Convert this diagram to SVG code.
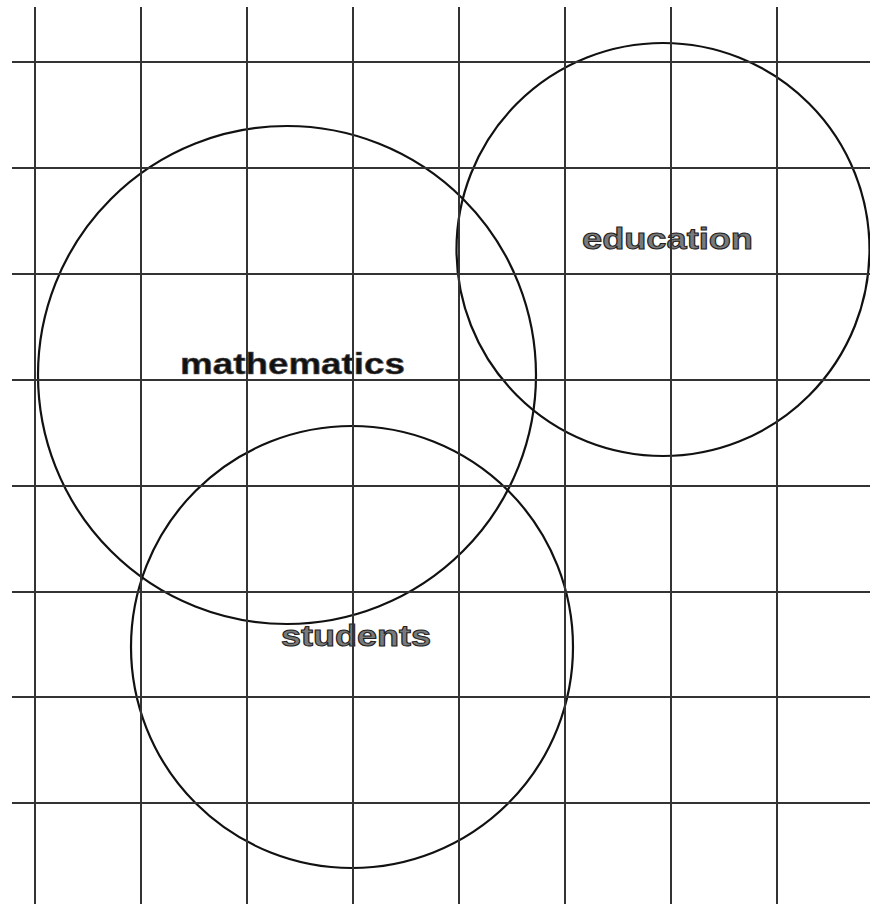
<svg xmlns="http://www.w3.org/2000/svg" width="870" height="904" viewBox="0 0 870 904">
<style>
.c{fill:none;stroke:#111;stroke-width:2.2}
.g line{stroke:#333;stroke-width:2}
.t{font-family:"Liberation Sans",Arial,sans-serif;font-weight:bold;font-size:29px}
.dark{fill:#111;stroke:#555;stroke-width:0.6}
.grey{fill:#7a7a7a;stroke:#222;stroke-width:1}
</style>
<rect width="870" height="904" fill="#fff"/>
<g id="mathematics">
<circle class="c" cx="287" cy="375" r="249"/>
<text class="t dark" x="180" y="374" textLength="225" lengthAdjust="spacingAndGlyphs">mathematics</text>
</g>
<g id="education">
<circle class="c" cx="663" cy="249.5" r="206.5"/>
<text class="t grey" x="582" y="249" textLength="171" lengthAdjust="spacingAndGlyphs">education</text>
</g>
<g id="students">
<circle class="c" cx="352" cy="647" r="221"/>
<text class="t grey" x="281" y="646" textLength="150" lengthAdjust="spacingAndGlyphs">students</text>
</g>
<g id="grid" class="g">
<line x1="35" y1="7" x2="35" y2="904"/>
<line x1="141" y1="7" x2="141" y2="904"/>
<line x1="247" y1="7" x2="247" y2="904"/>
<line x1="353" y1="7" x2="353" y2="904"/>
<line x1="459" y1="7" x2="459" y2="904"/>
<line x1="565" y1="7" x2="565" y2="904"/>
<line x1="671" y1="7" x2="671" y2="904"/>
<line x1="777" y1="7" x2="777" y2="904"/>
<line x1="12" y1="62" x2="870" y2="62"/>
<line x1="12" y1="168" x2="870" y2="168"/>
<line x1="12" y1="274" x2="870" y2="274"/>
<line x1="12" y1="380" x2="870" y2="380"/>
<line x1="12" y1="486" x2="870" y2="486"/>
<line x1="12" y1="592" x2="870" y2="592"/>
<line x1="12" y1="697" x2="870" y2="697"/>
<line x1="12" y1="803" x2="870" y2="803"/>
</g>
</svg>
